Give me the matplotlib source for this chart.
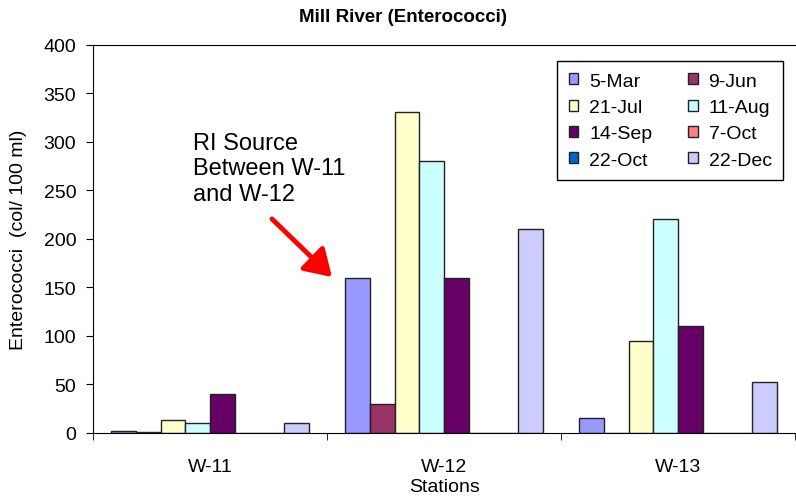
import matplotlib
matplotlib.use("Agg")
import matplotlib.pyplot as plt
import numpy as np

stations = ["W-11", "W-12", "W-13"]
series_names = ["5-Mar", "9-Jun", "21-Jul", "11-Aug", "14-Sep", "7-Oct", "22-Oct", "22-Dec"]
mar5 = [2, 160, 15]
jun9 = [1, 30, 0]
jul21 = [13, 330, 95]
aug11 = [10, 280, 220]
sep14 = [40, 160, 110]
oct7 = [0, 0, 0]
oct22 = [0, 0, 0]
dec22 = [10, 210, 52]
colors = ["#9999FF", "#993366", "#FFFFCC", "#CCFFFF", "#660066", "#FF8080", "#0066CC", "#CCCCFF"]
yticks = [0, 50, 100, 150, 200, 250, 300, 350, 400]

data = [mar5, jun9, jul21, aug11, sep14, oct7, oct22, dec22]

plt.rcParams['font.family'] = ['Liberation Sans', 'DejaVu Sans']
fig = plt.figure(figsize=(7.96, 5.02), dpi=100)
ax = fig.add_axes([93/796, (502-434)/502, (795-93)/796, (434-45.5)/502])

n = len(series_names)
gap = 1.5
bw = 1.0 / (n + gap)
x = np.arange(len(stations))
handles = []
for i, (name, vals, c) in enumerate(zip(series_names, data, colors)):
    offs = -0.5 + gap * bw / 2 + bw * (i + 0.5)
    h = ax.bar(x + offs, vals, width=bw, color=c, edgecolor="#222222", linewidth=1.0, label=name)
    handles.append(h)

ax.set_xlim(-0.5, len(stations) - 0.5)
ax.set_ylim(0, 400)
ax.set_yticks(yticks)
ax.set_xticks(x)
ax.set_xticklabels(stations)
ax.set_xticks(np.arange(-0.5, len(stations)), minor=True)
ax.tick_params(axis='x', which='major', length=0, labelsize=14, pad=18)
ax.tick_params(axis='x', which='minor', length=5, direction='out')
ax.tick_params(axis='y', length=5, direction='out', labelsize=14, pad=7)
ax.spines['right'].set_visible(False)

ax.set_ylabel("Enterococci  (col/ 100 ml)", fontsize=14)
ax.yaxis.set_label_coords((27 - 93) / 702, 0.5)
ax.set_xlabel("Stations", fontsize=14)
ax.xaxis.set_label_coords(0.5, -(479 - 434) / 388.5)
fig.text(403/796, 1 - 17/502, "Mill River (Enterococci)", ha='center', va='center', fontsize=13.5, fontweight='bold')

order = [0, 2, 4, 6, 1, 3, 5, 7]
leg = ax.legend([handles[i] for i in order], [series_names[i] for i in order], ncol=2,
                loc='upper left', bbox_to_anchor=((557-93)/702, (434-62)/388.5),
                frameon=True, fancybox=False, edgecolor='black', fontsize=14,
                handlelength=0.5, handleheight=0.5, handletextpad=0.55, columnspacing=1.85,
                labelspacing=0.48, borderpad=0.6, borderaxespad=0, framealpha=1)
leg.get_frame().set_linewidth(1.0)

fig.text(193/796, 1 - 133/502, "RI Source\nBetween W-11\nand W-12", ha='left', va='top', fontsize=17, linespacing=1.2)
fig.patches.append(matplotlib.patches.FancyArrowPatch((270/796, 1 - 218/502), (334/796, 1 - 280/502),
                                                      transform=fig.transFigure, arrowstyle='-|>,head_length=8,head_width=5',
                                                      color='#FF0000', linewidth=3.5, mutation_scale=2))

fig.savefig("out.png", dpi=100)
